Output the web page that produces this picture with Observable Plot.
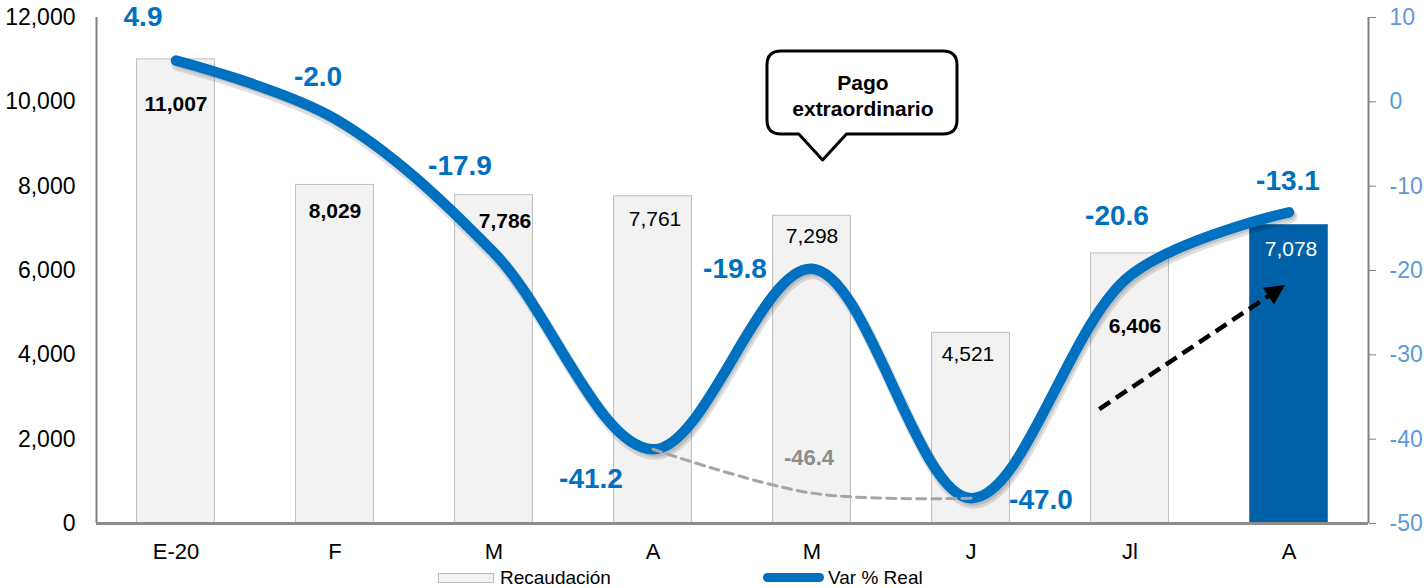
<!DOCTYPE html>
<html>
<head>
<meta charset="utf-8">
<script src="https://cdn.jsdelivr.net/npm/d3@7"></script>
<script src="https://cdn.jsdelivr.net/npm/@observablehq/plot@0.6"></script>
<style>
  body { margin: 0; background: #fff; font-family: "Liberation Sans", Arial, sans-serif; }
  #chart { width: 1424px; height: 565px; }
  #legend { position: relative; width: 1424px; height: 23px; overflow: hidden; font-size: 19px; color: #000; }
  #legend .sw { position: absolute; box-sizing: border-box; }
  #legend .lbl { position: absolute; line-height: 19px; white-space: nowrap; }
</style>
</head>
<body>
<div id="chart"></div>
<div id="legend">
  <div class="sw" style="left:438px;top:8px;width:56px;height:10px;background:#f2f2f2;border:1px solid #bfbfbf;"></div>
  <div class="lbl" style="left:500px;top:3px;">Recaudación</div>
  <div class="sw" style="left:763px;top:8px;width:61px;height:9px;background:#0070c0;border-radius:5px;"></div>
  <div class="lbl" style="left:828px;top:3px;">Var % Real</div>
</div>
<script>
// ---------- data ----------
const months = ["E-20", "F", "M", "A", "M", "J", "Jl", "A"];
const recaudacion = [11007, 8029, 7786, 7761, 7298, 4521, 6406, 7078];
const varReal = [4.9, -2.0, -17.9, -41.2, -19.8, -47.0, -20.6, -13.1];
const ajusteIdx = [3, 4, 5];
const ajusteVals = [-41.2, -46.4, -47.0];
const leftTicks = [0, 2000, 4000, 6000, 8000, 10000, 12000];
const rightTicks = [-50, -40, -30, -20, -10, 0, 10];
const calloutText = "Pago\nextraordinario";

// ---------- label layout (pixel offsets) ----------
const varLabelOffsets = [[-33, -43], [-17, -42], [-34, -87], [-62, 30], [-77, 0], [70, 2], [-13, -60], [-1, -31]];
const barLabelOffsets = [[0, 45], [0, 26], [11, 26], [2, 23], [0, 20], [-3, 21], [5, 73], [2, 24]];
const barLabelBold = [true, true, true, false, false, false, true, false];
const highlightIdx = 7;

// right axis (-50..10) mapped onto left axis (0..12000)
const rMin = -50, rMax = 10, lMax = 12000;
const toLeft = v => (v - rMin) / (rMax - rMin) * lMax;
const fromLeft = l => l / lMax * (rMax - rMin) + rMin;

const bars = recaudacion.map((v, i) => ({i, v}));
const line = varReal.map((v, i) => ({i, v, y: toLeft(v)}));
const adj = ajusteIdx.map((i, k) => ({i, v: ajusteVals[k], y: toLeft(ajusteVals[k])}));

const fmt = d3.format(",");
const half = 0.245;

// callout (data coordinates)
const callout = {x0: 3.72, x1: 4.915, yTop: 11194, yBot: 9225, tailL: 3.92, tailR: 4.22, apexX: 4.07, apexY: 8609, textX: 4.32, textY: 10174};
// arrow (data coordinates)
const arrow = {x1: 5.81, y1: 2703, x2: 6.978, y2: 5644};

const calloutMark = (index, scales) => {
  const {x, y} = scales;
  const X0 = x(callout.x0), X1 = x(callout.x1), YT = y(callout.yTop), YB = y(callout.yBot);
  const r = 14;
  const p = d3.path();
  p.moveTo(X0 + r, YT);
  p.lineTo(X1 - r, YT);
  p.quadraticCurveTo(X1, YT, X1, YT + r);
  p.lineTo(X1, YB - r);
  p.quadraticCurveTo(X1, YB, X1 - r, YB);
  p.lineTo(x(callout.tailR), YB);
  p.lineTo(x(callout.apexX), y(callout.apexY));
  p.lineTo(x(callout.tailL), YB);
  p.lineTo(X0 + r, YB);
  p.quadraticCurveTo(X0, YB, X0, YB - r);
  p.lineTo(X0, YT + r);
  p.quadraticCurveTo(X0, YT, X0 + r, YT);
  p.closePath();
  const g = d3.create("svg:g");
  g.append("path").attr("d", p.toString()).attr("fill", "#fff").attr("stroke", "#000").attr("stroke-width", 3).attr("stroke-linejoin", "round");
  return g.node();
};

const arrowMark = (index, scales) => {
  const {x, y} = scales;
  const ax = x(arrow.x1), ay = y(arrow.y1), bx = x(arrow.x2), by = y(arrow.y2);
  const dx = bx - ax, dy = by - ay, L = Math.hypot(dx, dy);
  const ux = dx / L, uy = dy / L;
  const hl = 20, hw = 10;
  const cx = bx - ux * hl, cy = by - uy * hl;
  const g = d3.create("svg:g");
  g.append("line").attr("x1", ax).attr("y1", ay).attr("x2", cx + ux * 2).attr("y2", cy + uy * 2)
    .attr("stroke", "#000").attr("stroke-width", 4.5).attr("stroke-dasharray", "13,7");
  g.append("path").attr("d", `M${bx},${by}L${cx - uy * hw},${cy + ux * hw}L${cx + uy * hw},${cy - ux * hw}Z`).attr("fill", "#000");
  return g.node();
};

const varLabels = line.map((d, k) => Plot.text([d], {
  x: "i", y: "y", text: d => d.v.toFixed(1),
  dx: varLabelOffsets[k][0], dy: varLabelOffsets[k][1],
  fill: "#0070c0", fontWeight: "bold", fontSize: 28, textAnchor: "middle"
}));

const barLabels = bars.map((d, k) => Plot.text([d], {
  x: "i", y: "v", text: d => fmt(d.v),
  dx: barLabelOffsets[k][0], dy: barLabelOffsets[k][1],
  fill: k === highlightIdx ? "#fff" : "#000",
  fontWeight: barLabelBold[k] ? "bold" : "normal", fontSize: 21, textAnchor: "middle"
}));

const chart = Plot.plot({
  width: 1424,
  height: 565,
  marginLeft: 96,
  marginRight: 56,
  marginTop: 17,
  marginBottom: 42,
  style: {fontFamily: "'Liberation Sans', Arial, sans-serif", fontSize: "22px", background: "#fff", color: "#000"},
  x: {domain: [-0.5, 7.5], axis: null},
  y: {domain: [0, 12000], axis: null},
  marks: [
    Plot.rectY(bars.filter(d => d.i !== highlightIdx), {x1: d => d.i - half, x2: d => d.i + half, y1: 0, y2: "v", fill: "#f2f2f2", stroke: "#bfbfbf", strokeWidth: 1}),
    Plot.rectY(bars.filter(d => d.i === highlightIdx), {x1: d => d.i - half, x2: d => d.i + half, y1: 0, y2: "v", fill: "#0060a8", stroke: "#3a7fc0", strokeWidth: 1}),
    Plot.ruleX([-0.5], {stroke: "#808080", strokeWidth: 2}),
    Plot.ruleX([7.5], {stroke: "#808080", strokeWidth: 2}),
    Plot.ruleY([0], {stroke: "#8c8c8c", strokeWidth: 3}),
    Plot.axisY(leftTicks, {anchor: "left", tickSize: 0, tickPadding: 21, tickFormat: fmt, fontSize: 23, fill: "#000"}),
    Plot.axisY(rightTicks.map(toLeft), {anchor: "right", tickSize: 7, tickPadding: 14, tickFormat: d => String(Math.round(fromLeft(d))), fontSize: 23, stroke: "#808080", fill: "#5b9bd5"}),
    Plot.axisX(d3.range(months.length), {anchor: "bottom", tickSize: 0, tickPadding: 20, tickFormat: i => months[i], fontSize: 22, fill: "#000"}),
    // soft shadow under the main line
    Plot.line(line, {x: "i", y: "y", curve: "catmull-rom", stroke: "#000", strokeOpacity: 0.12, strokeWidth: 13, dx: 2, dy: 4, strokeLinecap: "round", strokeLinejoin: "round"}),
    Plot.line(line, {x: "i", y: "y", curve: "catmull-rom", stroke: "#000", strokeOpacity: 0.12, strokeWidth: 9, dx: 2, dy: 3, strokeLinecap: "round", strokeLinejoin: "round"}),
    Plot.line(line, {x: "i", y: "y", curve: "catmull-rom", stroke: "#0070c0", strokeWidth: 10.5, strokeLinecap: "round", strokeLinejoin: "round"}),
    Plot.line(adj, {x: "i", y: "y", curve: "catmull-rom", stroke: "#a6a6a6", strokeWidth: 3, strokeDasharray: "9,6"}),
    Plot.text([adj[1]], {x: "i", y: "y", text: d => d.v.toFixed(1), dx: -3, dy: -35, fill: "#8c8c8c", fontWeight: "bold", fontSize: 22, textAnchor: "middle"}),
    ...barLabels,
    ...varLabels,
    calloutMark,
    Plot.text([callout], {x: "textX", y: "textY", text: () => calloutText, lineHeight: 1.24, fontWeight: "bold", fontSize: 21, fill: "#000", textAnchor: "middle"}),
    arrowMark
  ]
});

document.getElementById("chart").appendChild(chart);
</script>
</body>
</html>
